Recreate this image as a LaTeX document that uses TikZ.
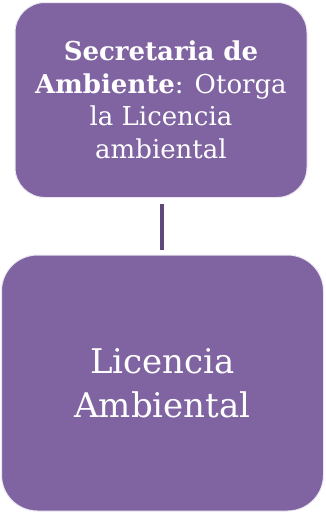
\documentclass[tikz,border=0pt]{standalone}
\usepackage{fontspec}
\setmainfont{DejaVu Serif}
\definecolor{boxpurple}{HTML}{8064A2}
\definecolor{linepurple}{HTML}{5F497A}
\begin{document}
\begin{tikzpicture}[x=1pt,y=-1pt,
  box/.style={draw=white!85!boxpurple, line width=1pt, fill=boxpurple, rounded corners=#1, text=white, align=center},
  conn/.style={draw=linepurple, line width=4.5pt}]
\useasboundingbox (0,0) rectangle (325,512);
\node[box=30pt, minimum width=292pt, minimum height=195pt, font=\fontsize{26}{32.5}\selectfont] (top) at (161,100)
  {\textbf{Secretaria de}\\\textbf{Ambiente}: Otorga\\la Licencia\\ambiental};
\node[box=36pt, minimum width=322pt, minimum height=256pt, font=\fontsize{34}{44}\selectfont] (bot) at (162.5,383)
  {Licencia\\Ambiental};
\path (top.south) ++(1,6) coordinate (a);
\draw[conn, shorten >=5pt] (a) -- (a |- bot.north);
\end{tikzpicture}
\end{document}
